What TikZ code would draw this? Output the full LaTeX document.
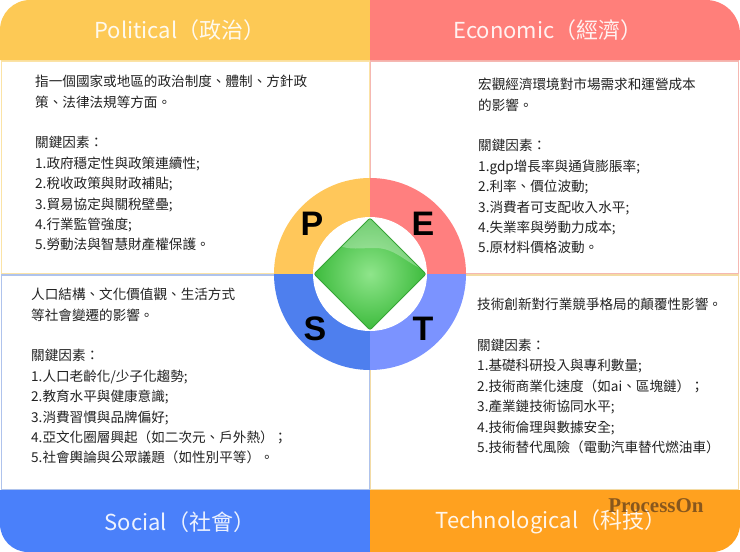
\documentclass[tikz,border=0pt]{standalone}
\usepackage{fontspec}
\setmainfont{Noto Sans CJK TC}
\newfontfamily\letterfont{Liberation Sans}
\newfontfamily\wmfont{Liberation Serif}
\definecolor{barP}{HTML}{FDC955}
\definecolor{barE}{HTML}{FF7F7A}
\definecolor{barS}{HTML}{4A80FA}
\definecolor{barT}{HTML}{FFA11F}
\definecolor{ringP}{HTML}{FFC75A}
\definecolor{ringE}{HTML}{FF7F7F}
\definecolor{ringS}{HTML}{4E7FEE}
\definecolor{ringT}{HTML}{7B93FF}
\definecolor{bdP}{HTML}{FBE3A6}
\definecolor{bdE}{HTML}{F5B8B2}
\definecolor{bdS}{HTML}{AFC3EC}
\definecolor{bdT}{HTML}{F3DBA4}
\definecolor{txtgray}{HTML}{222222}
\definecolor{gLight}{HTML}{8FE58B}
\definecolor{gDark}{HTML}{3DBB3D}
\definecolor{gEdge}{HTML}{36A436}
\begin{document}
\begin{tikzpicture}[x=1pt,y=-1pt,
  titletext/.style={text=white,text opacity=0.9,font=\fontsize{22}{26}\selectfont,inner sep=0},
  bodytext/.style={text=txtgray,font=\fontsize{13.6}{20.4}\selectfont,align=left,inner sep=0,anchor=north west},
  letter/.style={font=\letterfont\bfseries\fontsize{34}{36}\selectfont,text=black,inner sep=0},
  panel/.style={line width=1.1pt}]
\useasboundingbox (0,0) rectangle (740,552);
\fill[white] (0,0) rectangle (740,552);
% panels
\draw[panel,bdP] (1.5,61) rectangle (369.5,274);
\draw[panel,bdE] (370.5,61) rectangle (738.5,274);
\draw[panel,bdS] (1.5,275) rectangle (369.5,490);
\draw[panel,bdT] (370.5,275) rectangle (738.5,490);
% title bars
\fill[barP] (0,60) [rounded corners=30pt] -- (0,0) [sharp corners] -- (370,0) -- (370,60) -- cycle;
\fill[barE] (370,60) -- (370,0) [rounded corners=34pt] -- (740,0) [sharp corners] -- (740,60) -- cycle;
\fill[barS] (0,490) -- (370,490) -- (370,552) [rounded corners=28pt] -- (0,552) [sharp corners] -- cycle;
\fill[barT] (370,490) -- (740,490) [rounded corners=28pt] -- (740,552) [sharp corners] -- (370,552) -- cycle;
\node[titletext] (tP) at (180,30) {Political（政治）};
\node[titletext] (tE) at (548,30) {Economic（經濟）};
\node[titletext] (tS) at (180,522) {Social（社會）};
\node[titletext] (tT) at (551,522) {Technological（科技）};
% body texts
\node[bodytext] (xP) at (35,75) {指一個國家或地區的政治制度、體制、方針政\\策、法律法規等方面。\\[20.4pt]關鍵因素：\\1.政府穩定性與政策連續性;\\2.稅收政策與財政補貼;\\3.貿易協定與關稅壁壘;\\4.行業監管強度;\\5.勞動法與智慧財產權保護。};
\node[bodytext] (xE) at (478,78) {宏觀經濟環境對市場需求和運營成本\\的影響。\\[20.4pt]關鍵因素：\\1.gdp增長率與通貨膨脹率;\\2.利率、價位波動;\\3.消費者可支配收入水平;\\4.失業率與勞動力成本;\\5.原材料價格波動。};
\node[bodytext] (xS) at (31,288) {人口結構、文化價值觀、生活方式\\等社會變遷的影響。\\[20.4pt]關鍵因素：\\1.人口老齡化/少子化趨勢;\\2.教育水平與健康意識;\\3.消費習慣與品牌偏好;\\4.亞文化圈層興起（如二次元、戶外熱）；\\5.社會輿論與公眾議題（如性別平等）。};
\node[bodytext] (xT) at (477,298) {技術創新對行業競爭格局的顛覆性影響。\\[20.4pt]關鍵因素：\\1.基礎科研投入與專利數量;\\2.技術商業化速度（如ai、區塊鏈）；\\3.產業鏈技術協同水平;\\4.技術倫理與數據安全;\\5.技術替代風險（電動汽車替代燃油車）};
% ring
\begin{scope}\clip (270,170) rectangle (370,274.5);\fill[ringP] (370,274) circle[radius=96];\end{scope}
\begin{scope}\clip (370,170) rectangle (470,274.5);\fill[ringE] (370,274) circle[radius=96];\end{scope}
\begin{scope}\clip (270,274) rectangle (370.5,380);\fill[ringS] (370,274) circle[radius=96];\end{scope}
\begin{scope}\clip (370,274) rectangle (470,380);\fill[ringT] (370,274) circle[radius=96];\end{scope}
\fill[white] (370,274) circle[radius=57];
% diamond
\shade[inner color=gLight,outer color=gDark,rounded corners=2pt] (370,218) -- (426,274) -- (370,330) -- (314,274) -- cycle;
\begin{scope}
\clip (370,218) -- (426,274) -- (370,330) -- (314,274) -- cycle;
\fill[white,opacity=0.28] (340,246) -- (370,216) -- (424,270) .. controls (405,262) and (395,248) .. (375,248) .. controls (360,248) and (350,250) .. (340,246) -- cycle;
\end{scope}
\draw[gEdge,line width=0.8pt,rounded corners=2pt] (370,218) -- (426,274) -- (370,330) -- (314,274) -- cycle;
% letters
\node[letter] (lP) at (312,224) {P};
\node[letter] (lE) at (423,224) {E};
\node[letter] (lS) at (315,329) {S};
\node[letter] (lT) at (423,329) {T};
% watermark
\node[font=\wmfont\bfseries\fontsize{21}{24}\selectfont,text=black!55!brown,text opacity=0.7,inner sep=0] (wm) at (656,506) {ProcessOn};
\end{tikzpicture}
\end{document}
